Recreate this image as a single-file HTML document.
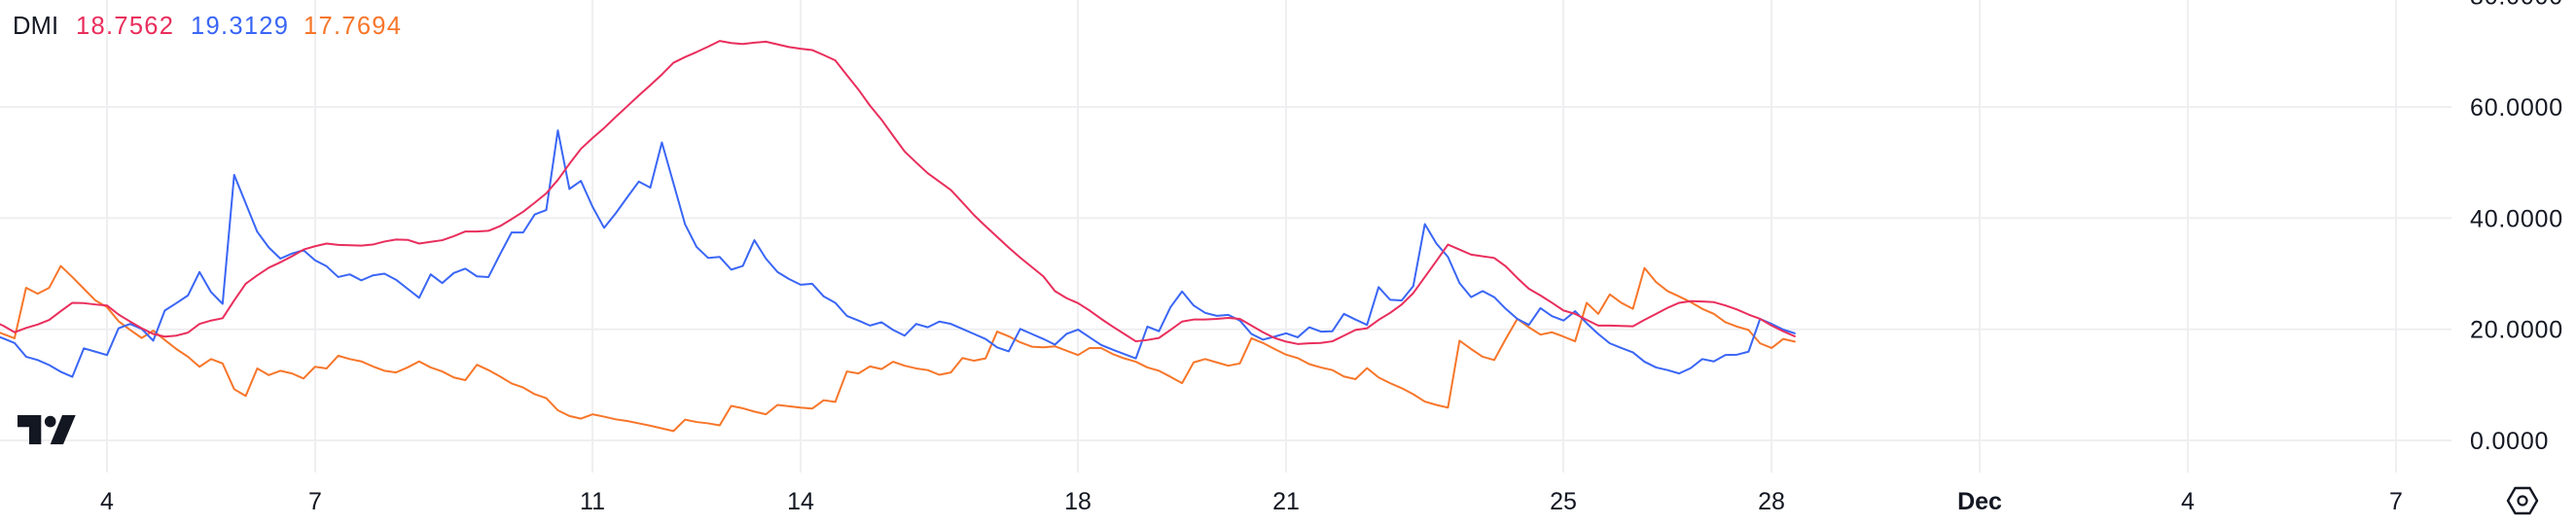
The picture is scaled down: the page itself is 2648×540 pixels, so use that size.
<!DOCTYPE html>
<html><head><meta charset="utf-8"><style>
html,body{margin:0;padding:0;background:#fff;}
svg{display:block;}
text{font-family:"Liberation Sans",Arial,sans-serif;fill:#131722;}
</style></head><body>
<svg width="2648" height="540" viewBox="0 0 2648 540" xmlns="http://www.w3.org/2000/svg">
<rect width="2648" height="540" fill="#fff"/>
<g stroke="#EFEFF1" stroke-width="2">
<line x1="0" y1="110" x2="2520" y2="110"/>
<line x1="0" y1="224.3" x2="2520" y2="224.3"/>
<line x1="0" y1="338.7" x2="2520" y2="338.7"/>
<line x1="0" y1="453" x2="2520" y2="453"/>
<line x1="110" y1="0" x2="110" y2="486"/>
<line x1="324" y1="0" x2="324" y2="486"/>
<line x1="609" y1="0" x2="609" y2="486"/>
<line x1="823" y1="0" x2="823" y2="486"/>
<line x1="1108" y1="0" x2="1108" y2="486"/>
<line x1="1322" y1="0" x2="1322" y2="486"/>
<line x1="1607" y1="0" x2="1607" y2="486"/>
<line x1="1821" y1="0" x2="1821" y2="486"/>
<line x1="2035" y1="0" x2="2035" y2="486"/>
<line x1="2249" y1="0" x2="2249" y2="486"/>
<line x1="2463" y1="0" x2="2463" y2="486"/>
</g>
<g fill="none" stroke-width="2" stroke-linejoin="round" stroke-linecap="round" transform="matrix(11.883 0 0 0.34438 110 -0.89)">
<polyline vector-effect="non-scaling-stroke" stroke="#F7762A" points="-10,985 -9,1000 -8,1013 -7,862 -6,880 -5,862 -4,797 -3,830 -2,865 -1,900 0,920 1,962 2,988 3,1012 4,990 5,1018 6,1045 7,1068 8,1098 9,1075 10,1088 11,1165 12,1185 13,1103 14,1123 15,1110 16,1118 17,1133 18,1098 19,1103 20,1065 21,1075 22,1082 23,1097 24,1110 25,1115 26,1100 27,1082 28,1100 29,1112 30,1130 31,1138 32,1092 33,1108 34,1127 35,1148 36,1160 37,1180 38,1192 39,1228 40,1245 41,1253 42,1240 43,1247 44,1255 45,1260 46,1267 47,1274 48,1282 49,1290 50,1256 51,1263 52,1267 53,1273 54,1215 55,1222 56,1232 57,1240 58,1212 59,1216 60,1220 61,1223 62,1198 63,1203 64,1112 65,1118 66,1097 67,1105 68,1083 69,1095 70,1103 71,1108 72,1122 73,1115 74,1072 75,1080 76,1073 77,993 78,1007 79,1025 80,1038 81,1040 82,1037 83,1050 84,1063 85,1042 86,1042 87,1060 88,1073 89,1083 90,1100 91,1110 92,1128 93,1147 94,1085 95,1075 96,1085 97,1095 98,1088 99,1013 100,1027 101,1045 102,1062 103,1072 104,1090 105,1100 106,1108 107,1127 108,1135 109,1102 110,1130 111,1147 112,1162 113,1180 114,1202 115,1212 116,1220 117,1020 118,1045 119,1068 120,1078 121,1015 122,955 123,980 124,1002 125,995 126,1008 127,1022 128,907 129,940 130,882 131,907 132,925 133,803 134,845 135,872 136,888 137,905 138,925 139,940 140,965 141,978 142,988 143,1028 144,1042 145,1015 146,1023"/>
<polyline vector-effect="non-scaling-stroke" stroke="#3A66F5" points="-10,1000 -9,1013 -8,1027 -7,1068 -6,1078 -5,1093 -4,1113 -3,1128 -2,1043 -1,1053 0,1063 1,983 2,970 3,985 4,1020 5,930 6,908 7,885 8,815 9,875 10,910 11,525 12,610 13,695 14,742 15,775 16,760 17,750 18,780 19,798 20,830 21,822 22,840 23,825 24,820 25,838 26,865 27,892 28,822 29,848 30,818 31,805 32,828 33,830 34,762 35,697 36,697 37,643 38,630 39,392 40,567 41,543 42,620 43,683 44,640 45,592 46,545 47,563 48,428 49,550 50,672 51,740 52,773 53,770 54,808 55,797 56,720 57,775 58,815 59,836 60,853 61,850 62,888 63,907 64,946 65,960 66,975 67,965 68,988 69,1005 70,970 71,980 72,963 73,970 74,985 75,1000 76,1015 77,1040 78,1052 79,985 80,1000 81,1015 82,1032 83,1000 84,987 85,1010 86,1033 87,1047 88,1060 89,1073 90,978 91,992 92,920 93,873 94,915 95,937 96,946 97,943 98,960 99,1000 100,1017 101,1008 102,998 103,1010 104,980 105,993 106,992 107,940 108,957 109,973 110,860 111,898 112,900 113,857 114,672 115,730 116,770 117,848 118,890 119,872 120,890 121,925 122,955 123,973 124,923 125,947 126,960 127,932 128,968 129,1000 130,1028 131,1042 132,1055 133,1083 134,1100 135,1108 136,1118 137,1102 138,1075 139,1082 140,1063 141,1062 142,1053 143,955 144,970 145,987 146,998"/>
<polyline vector-effect="non-scaling-stroke" stroke="#E92E5C" points="-10,960 -9,975 -8,995 -7,982 -6,972 -5,958 -4,932 -3,907 -2,908 -1,912 0,915 1,942 2,963 3,983 4,1000 5,1008 6,1005 7,996 8,970 9,960 10,953 11,900 12,850 13,825 14,802 15,786 16,768 17,748 18,738 19,730 20,734 21,735 22,736 23,733 24,724 25,718 26,719 27,730 28,725 29,720 30,708 31,694 32,694 33,692 34,678 35,657 36,635 37,608 38,580 39,540 40,492 41,447 42,415 43,385 44,352 45,320 46,288 47,257 48,225 49,190 50,173 51,158 52,142 53,125 54,131 55,134 56,130 57,127 58,135 59,143 60,148 61,152 62,167 63,183 64,227 65,270 66,318 67,360 68,408 69,455 70,488 71,520 72,545 73,570 74,607 75,645 76,678 77,710 78,742 79,772 80,800 81,828 82,872 83,893 84,908 85,930 86,955 87,978 88,1000 89,1022 90,1018 91,1012 92,988 93,963 94,957 95,957 96,955 97,952 98,955 99,975 100,995 101,1012 102,1023 103,1030 104,1028 105,1027 106,1022 107,1005 108,988 109,983 110,958 111,937 112,912 113,878 114,830 115,782 116,733 117,748 118,763 119,768 120,773 121,798 122,833 123,865 124,885 125,907 126,930 127,940 128,958 129,975 130,975 131,976 132,977 133,958 134,940 135,922 136,907 137,902 138,903 139,905 140,915 141,927 142,942 143,955 144,975 145,992 146,1007"/>
</g>
<!-- legend -->
<g font-size="25.5" letter-spacing="1.3">
<text x="13" y="35" letter-spacing="0.2">DMI</text>
<text x="78" y="35" style="fill:#E92E5C">18.7562</text>
<text x="196" y="35" style="fill:#3A66F5">19.3129</text>
<text x="312" y="35" style="fill:#F7762A">17.7694</text>
</g>
<!-- TV logo -->
<g fill="#131722">
<polygon points="18,427 42.3,427 42.3,457 30,457 30,439.2 18,439.2"/>
<circle cx="51.7" cy="433.6" r="5.8"/>
<polygon points="64,427 77.7,427 65,457 51.7,457"/>
</g>
<!-- y axis labels -->
<g font-size="25" letter-spacing="0.8">
<text x="2539" y="4.6">80.0000</text>
<text x="2539" y="119">60.0000</text>
<text x="2539" y="233.3">40.0000</text>
<text x="2539" y="347.7">20.0000</text>
<text x="2539" y="462">0.0000</text>
</g>
<!-- x axis labels -->
<g font-size="25" text-anchor="middle">
<text x="110" y="524">4</text>
<text x="324" y="524">7</text>
<text x="609" y="524">11</text>
<text x="823" y="524">14</text>
<text x="1108" y="524">18</text>
<text x="1322" y="524">21</text>
<text x="1607" y="524">25</text>
<text x="1821" y="524">28</text>
<text x="2035" y="524" font-weight="bold">Dec</text>
<text x="2249" y="524">4</text>
<text x="2463" y="524">7</text>
</g>
<!-- settings icon -->
<g fill="none" stroke="#131722" stroke-width="2.4" stroke-linejoin="round">
<polygon points="2578,515 2585.5,502 2600.5,502 2608,515 2600.5,528 2585.5,528"/>
<circle cx="2593" cy="515" r="4.5" stroke-width="2.2"/>
</g>
</svg>
</body></html>
